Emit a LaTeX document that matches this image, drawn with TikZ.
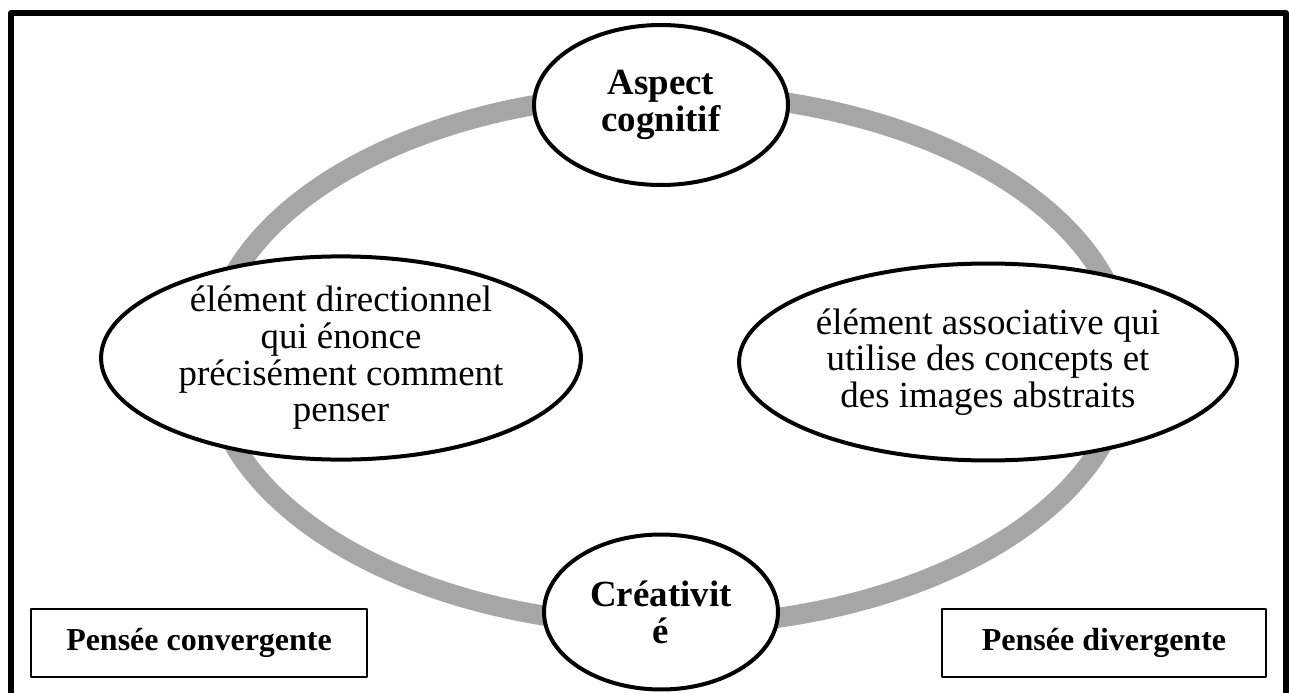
\documentclass[tikz,border=0pt]{standalone}
\usepackage{fontspec}
\setmainfont{Liberation Serif}
\usetikzlibrary{shapes.geometric}
\definecolor{anneau}{RGB}{166,166,166}

\begin{document}
\begin{tikzpicture}[x=0.02cm,y=-0.02cm,line join=round,
	bulle/.style={ellipse,draw,fill=white,line width=0.08cm,inner sep=0pt,align=center,font=\fontsize{21}{20.9}\selectfont},
	titre/.style={bulle,font=\fontsize{21}{20.9}\selectfont\bfseries},
	cadre/.style={rectangle,draw,fill=white,line width=0.04cm,minimum height=1.36cm,font=\fontsize{18.2}{20}\selectfont\bfseries}]
	\useasboundingbox (0,0) rectangle (1289,693);
	% cadre exterieur et anneau
	\draw[line width=0.12cm] (11,760)--(11,13)--(1286,13)--(1286,760);
	\draw[anneau,line width=0.4cm] (668,359.5) ellipse [x radius=458,y radius=266];
	% bulles
	\node[titre,minimum width=5.08cm,minimum height=3.2cm] (cognitif) at (661,105) {Aspect\\cognitif};
	\node[titre,minimum width=4.68cm,minimum height=3.1cm] (creativite) at (661,612) {Créativit\\é};
	\node[bulle,minimum width=9.6cm,minimum height=3.98cm] (convergent) at (341,358) {élément directionnel\\qui énonce\\précisément comment\\penser};
	\node[bulle,minimum width=9.96cm,minimum height=3.94cm] (divergent) at (988,362) {élément associative qui\\utilise des concepts et\\des images abstraits};
	% etiquettes
	\node[cadre,minimum width=6.72cm] (pconv) at (199,643) {Pensée convergente};
	\node[cadre,minimum width=6.48cm] (pdiv) at (1104,643) {Pensée divergente};
\end{tikzpicture}
\end{document}
